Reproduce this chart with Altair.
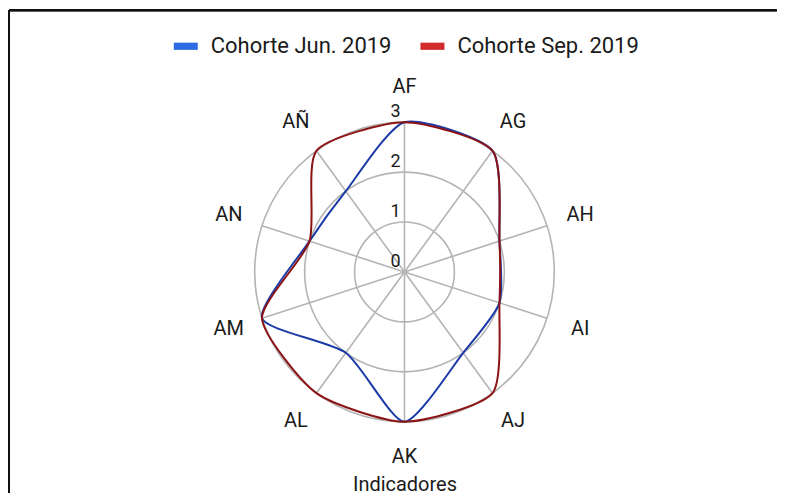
import altair as alt
import pandas as pd

categories = ["AF", "AG", "AH", "AI", "AJ", "AK", "AL", "AM", "AN", "AÑ"]
jun_2019 = [3, 3, 2, 2, 2, 3, 2, 3, 2, 2]
sep_2019 = [3, 3, 2, 2, 3, 3, 3, 3, 2, 3]
series_names = ["Cohorte Jun. 2019", "Cohorte Sep. 2019"]
tick_values = [0, 1, 2, 3]
grid_levels = [1, 2, 3]

line_colors = ["#1a3aa8", "#8b1313"]
legend_colors = ["#2d6be4", "#d22b2b"]
FONT = "Roboto"
TEXT = "#1a1a1a"
GRID = "#b4b4b4"

n = len(categories)
rows = []
for s, vals in zip(series_names, [jun_2019, sep_2019]):
    for i, (c, v) in enumerate(zip(categories, vals)):
        rows.append({"series": s, "cat": c, "idx": i, "value": v})
df = pd.DataFrame(rows)
cat_df = pd.DataFrame({"cat": categories, "idx": list(range(n))})
tick_df = pd.DataFrame({"tick": tick_values})
grid_df = pd.DataFrame({"level": grid_levels})
legend_df = pd.DataFrame({"cohorte": series_names})

# layout: plot area in px, centre of the radar
W, H = 770, 460
CX, CY = 397, 264
PX_PER_UNIT = 50.0
xs = alt.Scale(domain=[-CX / PX_PER_UNIT, (W - CX) / PX_PER_UNIT], nice=False, zero=False)
ys = alt.Scale(domain=[-(H - CY) / PX_PER_UNIT, CY / PX_PER_UNIT], nice=False, zero=False)
xaxis = alt.Axis(title="Indicadores", domain=False, ticks=False, labels=False, grid=False,
                 titleX=CX, titlePadding=7, titleFont=FONT, titleFontSize=20,
                 titleFontWeight="normal", titleColor=TEXT)
ANG = "datum.idx * 2 * PI / %d" % n


def X(field):
    return alt.X(field, type="quantitative", scale=xs, axis=xaxis, title="Indicadores")


def Y(field):
    return alt.Y(field, type="quantitative", scale=ys, axis=None)


circles = alt.Chart(grid_df).mark_point(shape="circle", filled=False, stroke=GRID,
                                        strokeWidth=1.6, opacity=1).transform_calculate(
    zero="0"
).encode(
    x=X("zero"), y=Y("zero"),
    size=alt.Size("level:Q", scale=alt.Scale(type="pow", exponent=2, domain=[0, 3],
                                             range=[0, (6 * PX_PER_UNIT) ** 2]), legend=None),
)

spokes = alt.Chart(cat_df).mark_rule(stroke=GRID, strokeWidth=1.6).transform_calculate(
    zero="0",
    xt="3 * sin(" + ANG + ")",
    yt="3 * cos(" + ANG + ")",
).encode(x=X("zero"), y=Y("zero"), x2="xt:Q", y2="yt:Q")

tick_text = alt.Chart(tick_df).mark_text(font=FONT, fontSize=18, color=TEXT, align="right",
                                         baseline="alphabetic", dx=-4, dy=-5).transform_calculate(
    zero="0"
).encode(x=X("zero"), y=Y("tick"), text=alt.Text("tick:Q"))

# stroke scale is data-driven (sorted: Jun, Sep) so it does not merge with the legend scale
lines = alt.Chart(df).mark_line(interpolate="cardinal-closed", tension=0.35,
                                strokeWidth=2).transform_calculate(
    px="datum.value * sin(" + ANG + ")",
    py="datum.value * cos(" + ANG + ")",
).encode(
    x=X("px"), y=Y("py"),
    stroke=alt.Stroke("series:N", scale=alt.Scale(range=line_colors), legend=None),
    order=alt.Order("idx:Q"),
)

cat_text = alt.Chart(cat_df).mark_text(font=FONT, fontSize=20, color=TEXT, align="center",
                                       baseline="middle").transform_calculate(
    lx="3.7 * sin(" + ANG + ")",
    ly="3.7 * cos(" + ANG + ")",
).encode(x=X("lx"), y=Y("ly"), text="cat:N")

legend_layer = alt.Chart(legend_df).mark_square(size=0, opacity=1).transform_calculate(
    zero="0"
).encode(
    x=X("zero"), y=Y("zero"),
    fill=alt.Fill("cohorte:N", scale=alt.Scale(domain=series_names, range=legend_colors),
                  legend=alt.Legend(orient="none", legendX=166, legendY=26,
                                    direction="horizontal", title=None,
                                    symbolType="M-1,-0.3H1V0.3H-1Z", symbolSize=576,
                                    symbolOpacity=1, symbolStrokeWidth=0,
                                    labelFont=FONT, labelFontSize=22, labelColor=TEXT,
                                    labelLimit=0, labelOffset=13, columnPadding=29,
                                    padding=0)),
)

border_top = alt.Chart(tick_df).mark_rule(color="#111111", strokeWidth=2).encode(
    x=alt.value(1), x2=alt.value(W), y=alt.value(2))
border_left = alt.Chart(tick_df).mark_rule(color="#111111", strokeWidth=2).encode(
    x=alt.value(1), y=alt.value(2), y2=alt.value(H + 25))

chart = alt.layer(
    circles, spokes, tick_text, lines, cat_text, legend_layer, border_top, border_left
).properties(width=W, height=H, padding=0).configure_view(stroke=None)

chart.save("out.html", embed_options={"renderer": "svg", "actions": False})
